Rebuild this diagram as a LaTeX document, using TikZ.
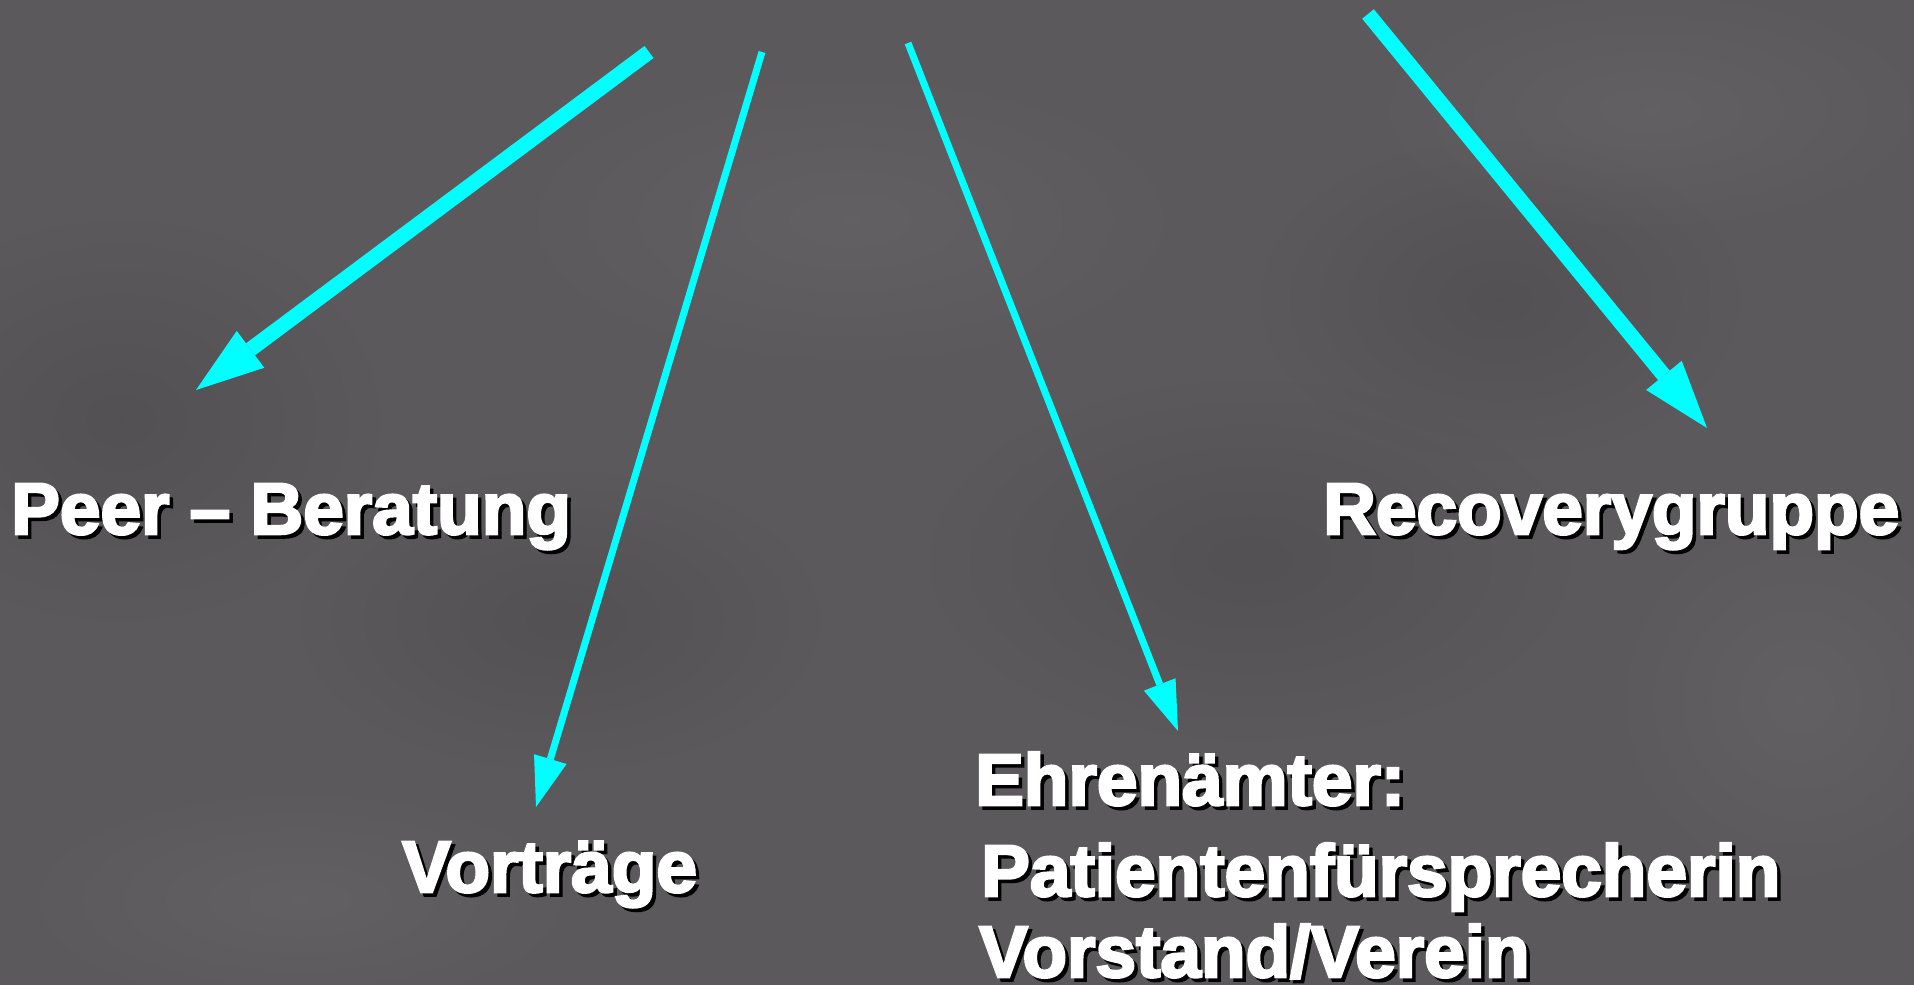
\documentclass[tikz,border=0pt]{standalone}
\usepackage{fontspec}
\setmainfont{Liberation Sans}[BoldFeatures={FakeBold=3.5}]
\usetikzlibrary{arrows.meta,fadings}
\definecolor{bg}{HTML}{5C595D}
\definecolor{bgdark}{HTML}{4A474B}
\definecolor{bglight}{HTML}{6C696D}
\definecolor{arrowcyan}{HTML}{00FFFF}
\tikzfading[name=softblob, inner color=transparent!55, outer color=transparent!100]
\newcommand{\shtxt}[1]{\makebox[0pt][l]{\kern3.5pt\raisebox{-3.5pt}{\color{black}#1}}#1}
\begin{document}
\begin{tikzpicture}[x=1pt,y=-1pt,
  lbl/.style={text=white,font=\fontsize{73}{80}\selectfont\bfseries,anchor=base west,inner sep=0pt},
  thickarrow/.style={draw=arrowcyan,line width=15pt,-{Triangle[width=46pt,length=68pt,line width=0pt]}},
  thinarrow/.style={draw=arrowcyan,line width=7pt,-{Triangle[width=34pt,length=50pt,line width=0pt]}},
  blob/.style={fill=#1,path fading=softblob,draw=none}]
  % background
  \fill[bg] (0,0) rectangle (1914,985);
  \useasboundingbox (0,0) rectangle (1914,985);
  \begin{scope}
    \clip (0,0) rectangle (1914,985);
    \fill[blob=bgdark] (120,420) ellipse (260 and 200);
    \fill[blob=bgdark] (1250,560) ellipse (320 and 180);
    \fill[blob=bgdark] (560,620) ellipse (260 and 150);
    \fill[blob=bgdark] (1500,300) ellipse (240 and 160);
    \fill[blob=bglight] (850,220) ellipse (360 and 160);
    \fill[blob=bglight] (1650,110) ellipse (300 and 130);
    \fill[blob=bglight] (300,900) ellipse (300 and 120);
    \fill[blob=bglight] (1800,700) ellipse (200 and 200);
  \end{scope}
  % labels
  \node[lbl] (peer) at (11,534) {\shtxt{Peer – Beratung}};
  \node[lbl] (recovery) at (1323,534) {\shtxt{Recoverygruppe}};
  \node[lbl] (vortraege) at (402,892) {\shtxt{Vorträge}};
  \node[lbl] (ehren) at (975,805) {\shtxt{Ehrenämter:}};
  \node[lbl] (patient) at (981,896) {\shtxt{Patientenfürsprecherin}};
  \node[lbl] (vorstand) at (979,977) {\shtxt{Vorstand/Verein}};
  % arrow ends
  \coordinate (s1) at (649,52);
  \coordinate (t1) at (196,390);
  \coordinate (s2) at (762,52);
  \coordinate (t2) at (536,807);
  \coordinate (s3) at (908,43);
  \coordinate (t3) at (1178,731);
  \coordinate (s4) at (1368,14);
  \coordinate (t4) at (1707,428);
  \draw[thickarrow] (s1) -- (t1);
  \draw[thinarrow] (s2) -- (t2);
  \draw[thinarrow] (s3) -- (t3);
  \draw[thickarrow] (s4) -- (t4);
\end{tikzpicture}
\end{document}
